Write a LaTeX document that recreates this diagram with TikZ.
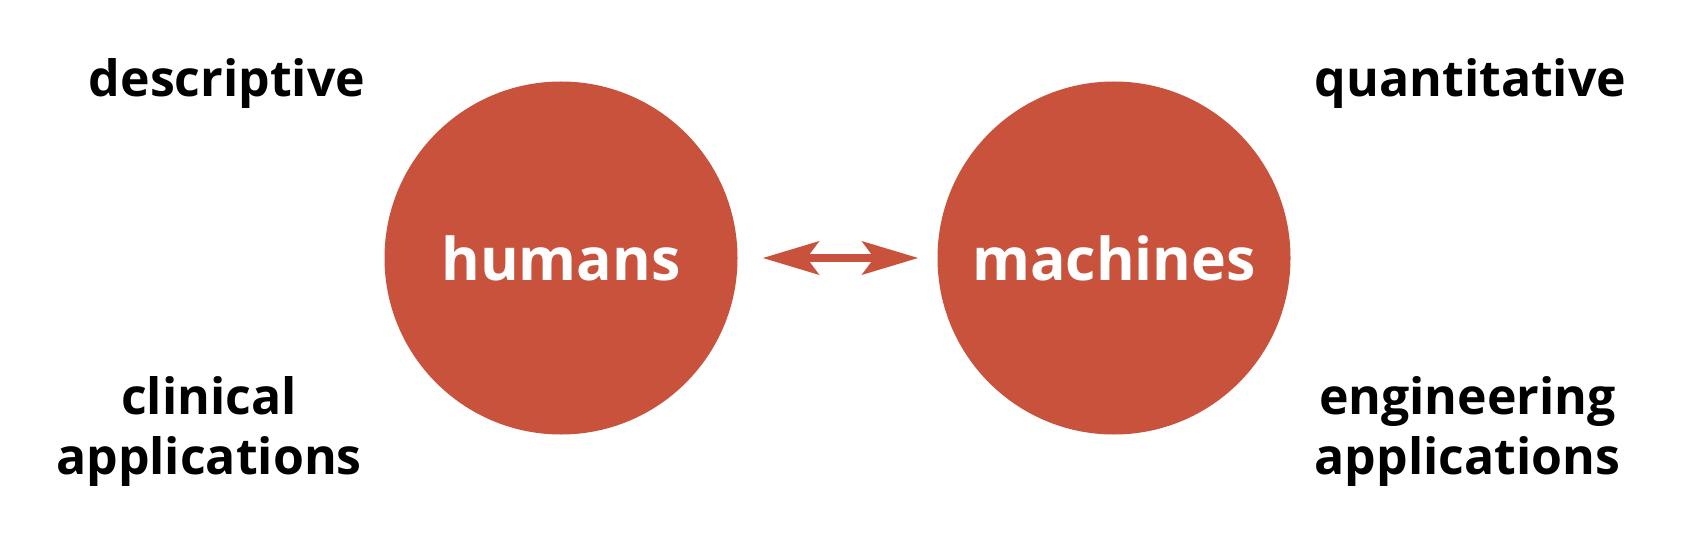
\documentclass[tikz,border=0pt]{standalone}
\usepackage{fontspec}
\setmainfont{Open Sans}
\usetikzlibrary{arrows.meta}
\definecolor{brick}{HTML}{C8523C}
\begin{document}
\begin{tikzpicture}[x=1bp,y=-1bp,
  blob/.style={circle, fill=brick, minimum size=353bp, inner sep=0pt, text=white,
    font=\fontsize{59bp}{70bp}\selectfont\bfseries},
  lbl/.style={align=center, inner sep=0pt, anchor=base,
    font=\fontsize{50bp}{60bp}\selectfont\bfseries, text=black},
  link/.style={draw=brick, line width=7.5bp,
    {Stealth[length=56bp,width=33bp,inset=12bp,fill=brick]}-{Stealth[length=56bp,width=33bp,inset=12bp,fill=brick]}}]
\useasboundingbox (0,0) rectangle (1683,547);
\fill[white] (0,0) rectangle (1683,547);
\node[blob] (hum) at (561,258) {humans};
\node[blob] (mach) at (1114,258) {machines};
\draw[link, shorten <=25bp, shorten >=19bp] (hum) -- (mach);
\node[lbl] (desc) at (227,97) {descriptive};
\node[lbl] (quant) at (1470.5,97) {quantitative};
\node[lbl] (clin) at (209,474) {clinical\\applications};
\node[lbl] (eng) at (1467.5,474) {engineering\\applications};
\end{tikzpicture}
\end{document}
